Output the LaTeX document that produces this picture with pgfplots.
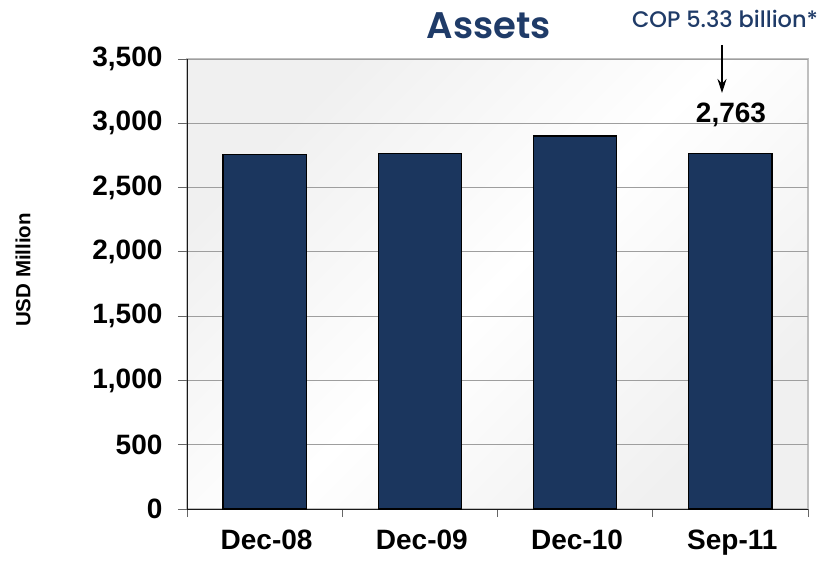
\documentclass[border=0pt]{standalone}
\usepackage{pgfplots}
\pgfplotsset{compat=1.18}
\usetikzlibrary{arrows.meta}
\usepackage{fontspec}
\setmainfont{Liberation Sans}
\newfontfamily\titlefont{Poppins SemiBold}
\newfontfamily\notefont{Poppins Medium}
\definecolor{barblue}{RGB}{27,54,94}
\definecolor{titleblue}{RGB}{31,59,104}
\begin{document}
\begin{tikzpicture}[x=1pt,y=1pt]
\path[use as bounding box] (0,0) rectangle (822,560);
\begin{axis}[
  at={(187pt,51pt)}, anchor=south west,
  scale only axis, width=621pt, height=450pt,
  xmin=-0.5, xmax=3.5, ymin=0, ymax=3500,
  ytick={0,500,...,3500},
  xtick={0,1,2,3},
  xticklabels={Dec-08,Dec-09,Dec-10,Sep-11},
  minor xtick={-0.5,0.5,1.5,2.5,3.5},
  axis x line*=bottom, axis y line*=left,
  axis line style={draw=black!90, line width=0.9pt},
  axis background/.style={shade, left color=black!6, right color=black!6, middle color=white, shading angle=45, draw=black!25, line width=1.6pt},
  ymajorgrids, grid style={draw=black!38, line width=0.8pt},
  tick align=outside,
  major tick length=9pt, minor tick length=8pt,
  every major x tick/.style={draw=none},
  tick style={draw=black!60, line width=0.8pt},
  ticklabel style={font=\bfseries\fontsize{28}{28}\selectfont},
  yticklabel style={xshift=-12pt},
  xticklabel style={yshift=-8pt, xshift=2pt},
  /pgf/number format/assume math mode=true,
  /pgf/number format/1000 sep={,},
  ybar, bar width=0.535,
]
\addplot[fill=barblue, draw=black, line width=1.2pt] coordinates {(0,2760) (1,2765) (2,2901) (3,2763)};
\end{axis}
\node[anchor=base, font=\titlefont\fontsize{37}{37}\selectfont, text=titleblue] at (489,521.7) {Assets};
\node[anchor=base, font=\notefont\fontsize{22.5}{22.5}\selectfont, text=titleblue] at (725,532) {COP 5.33 billion*};
\draw[-{Stealth[length=14pt,width=9pt]}, line width=1.2pt] (722,515) -- (722,467);
\node[anchor=base, font=\bfseries\fontsize{28}{28}\selectfont] at (731,437) {2,763};
\node[rotate=90, font=\bfseries\fontsize{20.5}{20.5}\selectfont] at (23,290) {USD Million};
\end{tikzpicture}
\end{document}
